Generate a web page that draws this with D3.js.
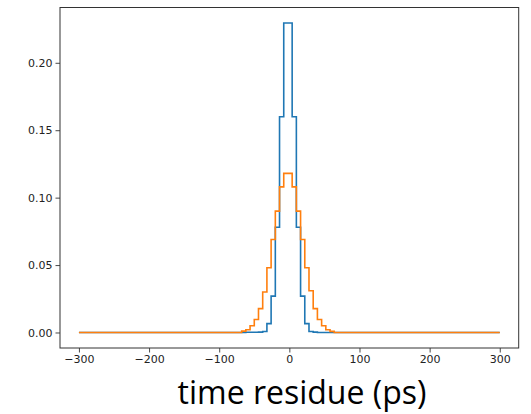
<!DOCTYPE html>
<html>
<head>
<meta charset="utf-8">
<script src="https://cdn.jsdelivr.net/npm/d3@7"></script>
<style>
  body { margin: 0; background: #fff; }
  svg { display: block; }
</style>
</head>
<body>
<script>
// bin edges of the histogram (ps), 6 ps wide
var binEdges = [-68, -62, -56, -50, -44, -38, -32, -26, -20, -14, -8, -2, 4, 10, 16, 22, 28, 34, 40, 46, 52, 58, 64];

// blue series (one value per bin)
var blueValues = [0, 0.0002, 0.0002, 0.0002, 0.0003, 0.0007, 0.0066, 0.027, 0.078, 0.160, 0.2295,
                  0.2295, 0.160, 0.078, 0.027, 0.0066, 0.0007, 0.0003, 0, 0, 0, 0];
// orange series
var orangeValues = [0.001, 0.002, 0.005, 0.0096, 0.0177, 0.030, 0.048, 0.069, 0.090, 0.108, 0.118,
                    0.118, 0.108, 0.090, 0.069, 0.048, 0.031, 0.0177, 0.0096, 0.005, 0.002, 0.0008];

var xRange = [-300, 300];
var xTicks = [-300, -200, -100, 0, 100, 200, 300];
var yTicks = [0, 0.05, 0.10, 0.15, 0.20];

var width = 531, height = 414;
var svg = d3.select("body").append("svg").attr("width", width).attr("height", height);

var x = d3.scaleLinear().domain([-327, 327]).range([60, 518.7]);
var y = d3.scaleLinear().domain([-0.0115, 0.241]).range([348, 7.5]);

// turn bins into step points from -300 to 300
function stepPoints(vals) {
  var pts = [[xRange[0], 0]];
  for (var i = 0; i < vals.length; i++) pts.push([binEdges[i], vals[i]]);
  pts.push([binEdges[binEdges.length - 1], 0]);
  pts.push([xRange[1], 0]);
  return pts;
}

var line = d3.line()
  .x(function(d) { return x(d[0]); })
  .y(function(d) { return y(d[1]); })
  .curve(d3.curveStepAfter);

svg.append("path").datum(stepPoints(blueValues))
  .attr("d", line).attr("fill", "none")
  .attr("stroke", "#1f77b4").attr("stroke-width", 1.6);

svg.append("path").datum(stepPoints(orangeValues))
  .attr("d", line).attr("fill", "none")
  .attr("stroke", "#ff7f0e").attr("stroke-width", 1.6);

// axes
var xAxis = d3.axisBottom(x).tickValues(xTicks).tickSize(4.5).tickPadding(3)
  .tickFormat(function(d) { return d < 0 ? "\u2212" + Math.abs(d) : d; });
var yAxis = d3.axisLeft(y).tickValues(yTicks).tickSize(4.5).tickPadding(3)
  .tickFormat(d3.format(".2f"));

var gx = svg.append("g").attr("transform", "translate(0,348)").call(xAxis);
var gy = svg.append("g").attr("transform", "translate(60,0)").call(yAxis);

[gx, gy].forEach(function(g) {
  g.select(".domain").remove();
  g.selectAll("line").attr("stroke", "#333").attr("stroke-width", 0.9);
  g.selectAll("text").attr("fill", "#222")
    .style("font-family", "DejaVu Sans").style("font-size", "11px");
});

// frame
svg.append("rect")
  .attr("x", 60).attr("y", 7.5)
  .attr("width", 518.7 - 60).attr("height", 348 - 7.5)
  .attr("fill", "none").attr("stroke", "#333").attr("stroke-width", 1);

// big axis label
svg.append("text")
  .attr("x", 302).attr("y", 404)
  .attr("text-anchor", "middle")
  .style("font-family", "Open Sans")
  .style("font-size", "32px")
  .style("font-variant-ligatures", "none")
  .attr("fill", "#000")
  .text("time residue (ps)");
</script>
</body>
</html>
